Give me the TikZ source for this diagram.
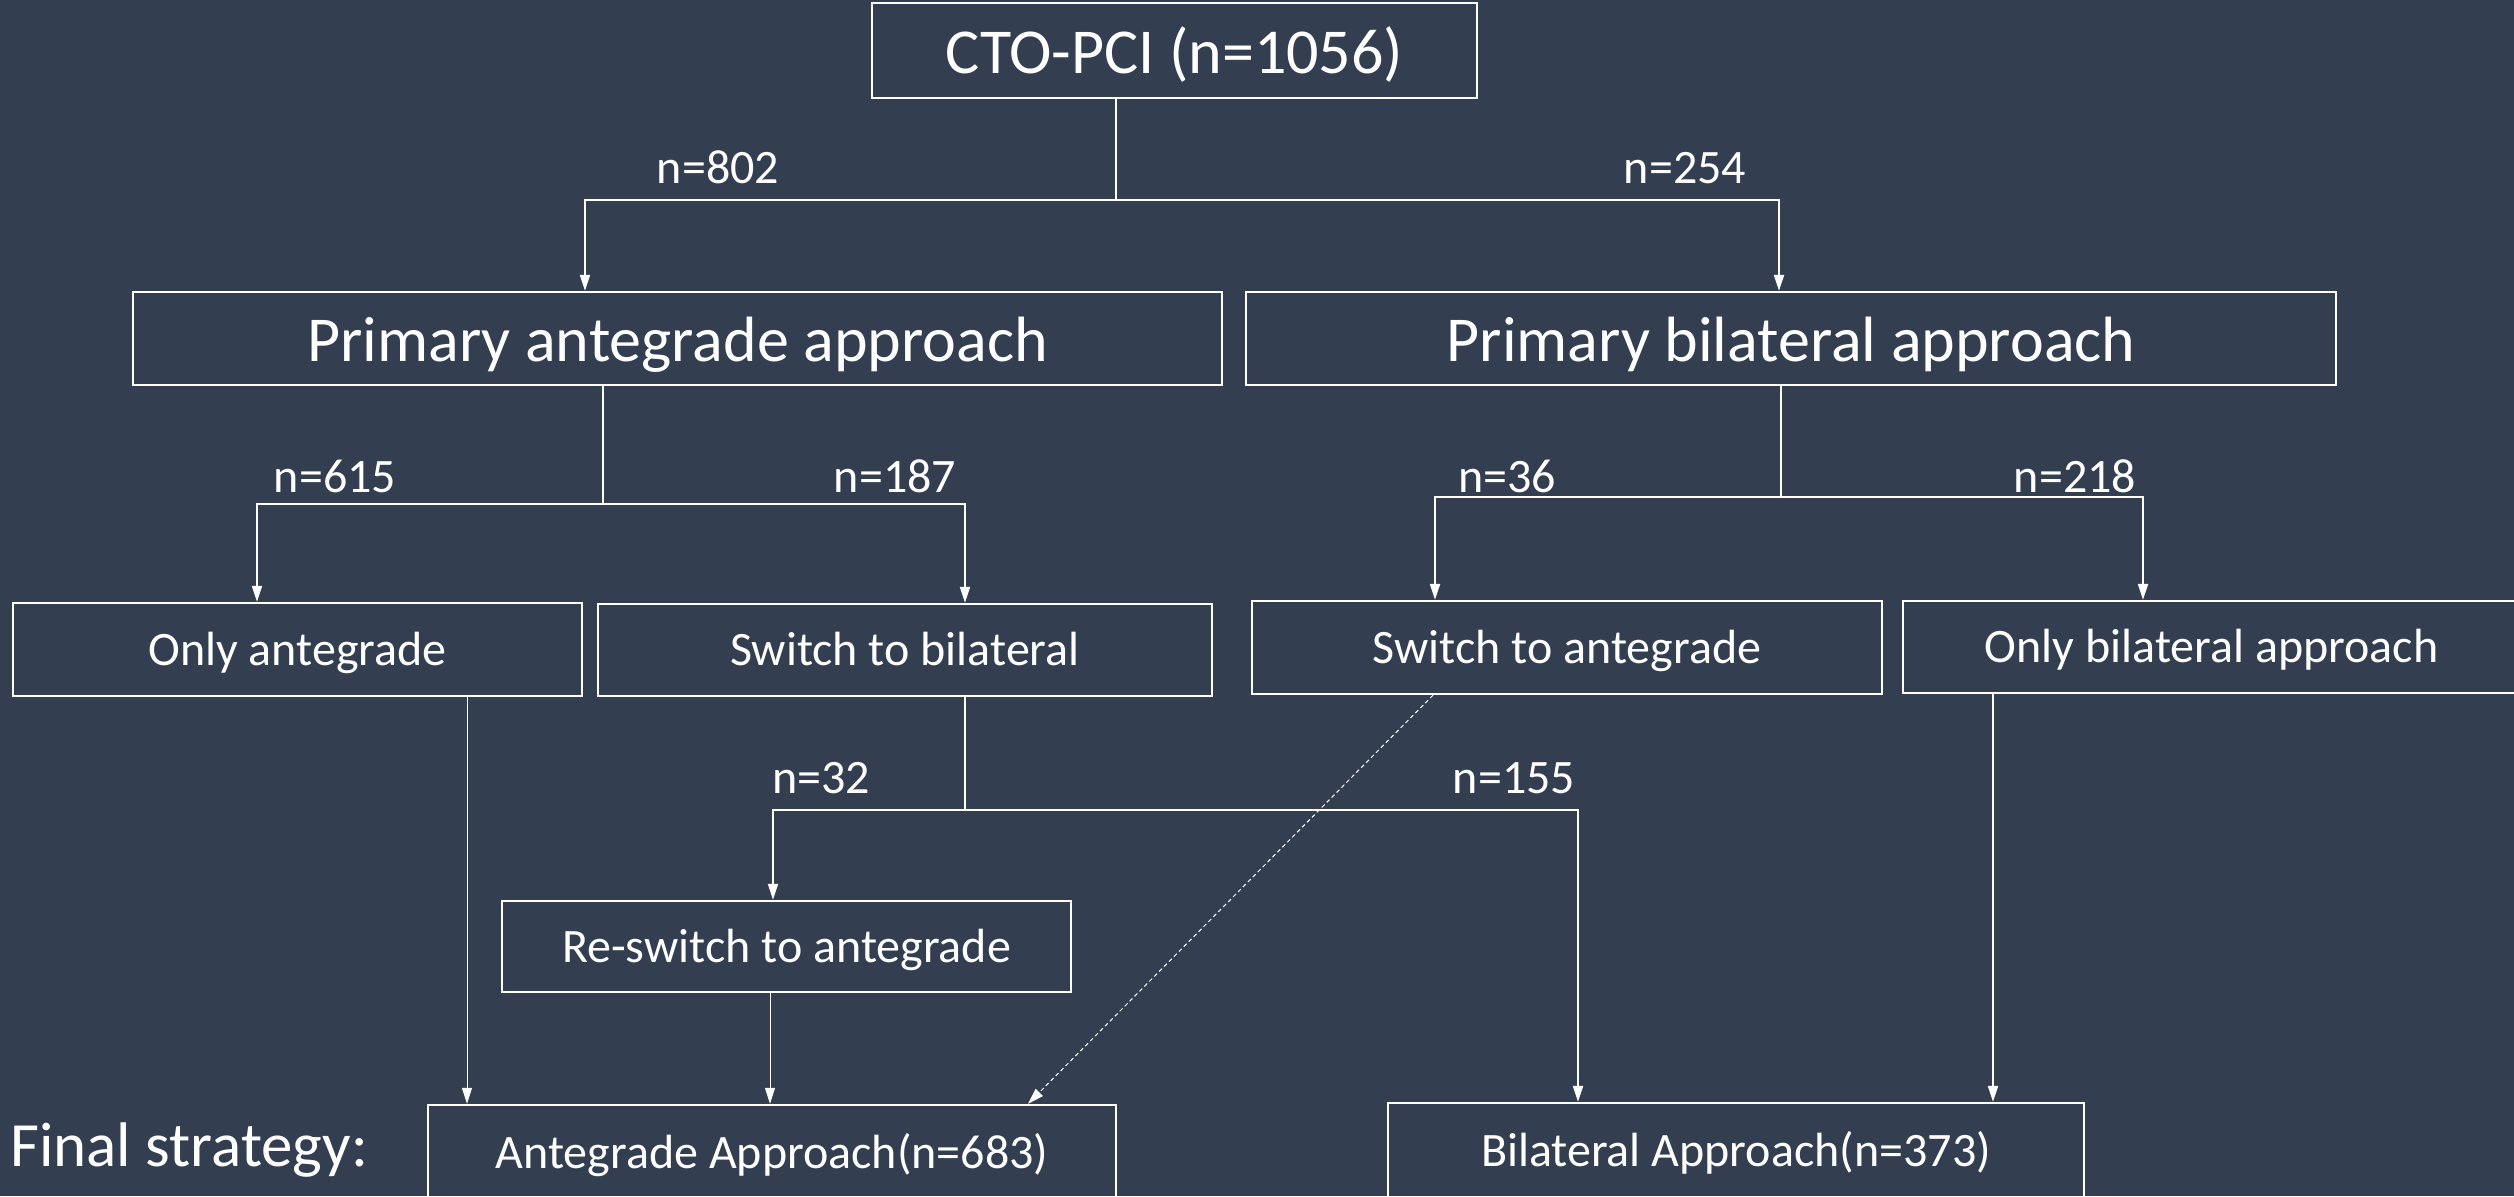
\documentclass[tikz,border=0pt]{standalone}
\usepackage{fontspec}
\setmainfont{Carlito}
\usetikzlibrary{arrows.meta}
\definecolor{slate}{HTML}{333F50}
\begin{document}
\begin{tikzpicture}[x=0.5pt,y=-0.5pt,
  every node/.style={text=white, inner sep=0pt},
  bigbox/.style={draw=white, line width=1.2pt, font=\fontsize{32}{38}\selectfont,
    text height=28.5pt, text depth=6pt},
  smallbox/.style={draw=white, line width=1.2pt, font=\fontsize{24}{29}\selectfont,
    text height=21.5pt, text depth=6pt},
  lbl/.style={font=\fontsize{24}{29}\selectfont},
  ln/.style={draw=white, line width=1pt},
  arr/.style={ln, -{Triangle[length=8pt,width=5pt]}},
  thinarr/.style={draw=white, line width=0.5pt, -{Triangle[length=8pt,width=5pt]}},
  dotarr/.style={draw=white, line width=0.5pt, dash pattern=on 2pt off 1.5pt, -{Triangle[length=8pt,width=5pt]}}
]
% page and background
\fill[slate] (0,0) rectangle (2514,1196);
\useasboundingbox (0,0) rectangle (2514,1196);
\clip (0,0) rectangle (2514,1196);

% boxes
\node[bigbox, minimum width=302.5pt, minimum height=47.5pt] (cto) at (1174.5,50.5) {CTO-PCI (n=1056)};
\node[bigbox, minimum width=544.5pt, minimum height=46.5pt] (pa) at (677.5,338.5) {Primary antegrade approach};
\node[bigbox, minimum width=545pt, minimum height=46.5pt] (pb) at (1791,338.5) {Primary bilateral approach};
\node[smallbox, minimum width=284.5pt, minimum height=46.5pt] (oa) at (297.5,649.5) {Only antegrade};
\node[smallbox, minimum width=307pt, minimum height=46pt] (sb) at (905,650) {Switch to bilateral};
\node[smallbox, minimum width=315pt, minimum height=46.5pt] (sa) at (1567,647.5) {Switch to antegrade};
\node[smallbox, minimum width=308.5pt, minimum height=46pt] (ob) at (2211.5,647) {Only bilateral approach};
\node[smallbox, minimum width=284.5pt, minimum height=45.5pt] (rs) at (786.5,946.5) {Re-switch to antegrade};
\node[smallbox, minimum width=344pt, minimum height=48pt] (aa) at (772,1153) {Antegrade Approach(n=683)};
\node[smallbox, minimum width=348pt, minimum height=48pt] (ba) at (1736,1151) {Bilateral Approach(n=373)};
\node[font=\fontsize{31.5}{38}\selectfont, anchor=west] (fs) at (10,1150) {Final strategy:};

% split points
\coordinate (k0) at (1116,200);
\coordinate (k1) at (603,504);
\coordinate (k2) at (1781,497);
\coordinate (k3) at (965,810);

% first split
\draw[ln] (cto.south -| k0) -- (k0);
\draw[arr] (k0) -| (585,0 |- pa.north);
\draw[arr] (k0) -| (1779,0 |- pb.north);
\node[lbl] (l802) at (718,167) {n=802};
\node[lbl] (l254) at (1685,168) {n=254};

% antegrade branch
\draw[ln] (pa.south -| k1) -- (k1);
\draw[arr] (k1) -| (257,0 |- oa.north);
\draw[arr] (k1) -| (965,0 |- sb.north);
\node[lbl] (l615) at (335,476) {n=615};
\node[lbl] (l187) at (895,476) {n=187};

% bilateral branch
\draw[ln] (pb.south -| k2) -- (k2);
\draw[arr] (k2) -| (1435,0 |- sa.north);
\draw[arr] (k2) -| (2143,0 |- ob.north);
\node[lbl] (l36) at (1507,476) {n=36};
\node[lbl] (l218) at (2075,476) {n=218};

% switch to bilateral split
\draw[ln] (sb.south -| k3) -- (k3);
\draw[arr] (k3) -| (773,0 |- rs.north);
\draw[arr] (k3) -| (1578,0 |- ba.north);
\node[lbl] (l32) at (821,778) {n=32};
\node[lbl] (l155) at (1514,778) {n=155};

% final connectors
\draw[thinarr] (467,0 |- oa.south) -- (467,0 |- aa.north);
\draw[thinarr] (770,0 |- rs.south) -- (770,0 |- aa.north);
\draw[dotarr] (1433,0 |- sa.south) -- (1028,0 |- aa.north);
\draw[arr] (1993,0 |- ob.south) -- (1993,0 |- ba.north);
\end{tikzpicture}
\end{document}
